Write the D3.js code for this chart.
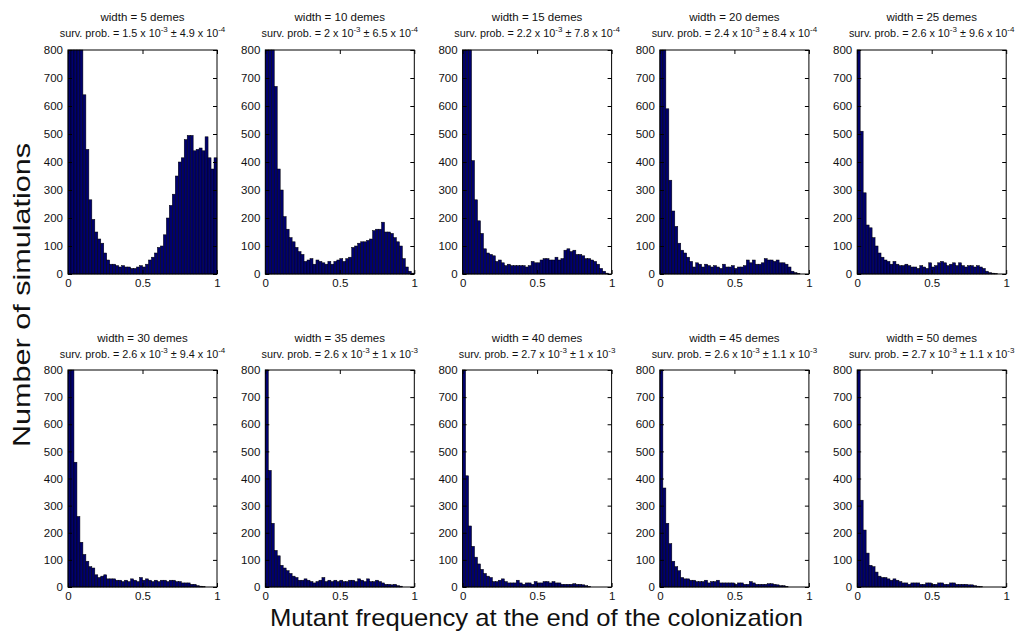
<!DOCTYPE html>
<html>
<head>
<meta charset="utf-8">
<script src="https://cdn.jsdelivr.net/npm/d3@7"></script>
<style>
  html, body { margin: 0; padding: 0; background: #fff; }
  svg { display: block; font-family: "Liberation Sans", Arial, sans-serif; }
</style>
</head>
<body>
<script>
// ---------- DATA ----------
const widths = [5, 10, 15, 20, 25, 30, 35, 40, 45, 50];
const survMean = ["1.5", "2", "2.2", "2.4", "2.6", "2.6", "2.6", "2.7", "2.6", "2.7"];
const survMeanExp = ["-3", "-3", "-3", "-3", "-3", "-3", "-3", "-3", "-3", "-3"];
const survErr = ["4.9", "6.5", "7.8", "8.4", "9.6", "9.4", "1", "1", "1.1", "1.1"];
const survErrExp = ["-4", "-4", "-4", "-4", "-4", "-4", "-3", "-3", "-3", "-3"];

const yTicks = [0, 100, 200, 300, 400, 500, 600, 700, 800];
const xTicks = [0, 0.5, 1];
const xTickLabels = ["0", "0.5", "1"];

// counts per 0.02-wide bin (50 bins on [0,1]); values above 800 are clipped by the axis
const countsW5 = [3000, 1500, 1100, 950, 850, 640, 445, 265, 195, 150,
  125, 110, 75, 50, 35, 35, 30, 25, 30, 25,
  25, 20, 20, 25, 30, 25, 35, 50, 60, 75,
  95, 100, 140, 200, 245, 285, 350, 400, 415, 480,
  495, 495, 440, 445, 450, 440, 490, 415, 375, 415];
const countsW10 = [3500, 1500, 900, 670, 375, 300, 205, 160, 130, 115,
  95, 80, 70, 45, 50, 55, 35, 50, 45, 40,
  35, 45, 35, 45, 50, 55, 45, 55, 60, 95,
  100, 110, 115, 115, 120, 125, 155, 160, 160, 185,
  150, 150, 145, 130, 115, 100, 55, 25, 10, 3];
const countsW15 = [4000, 1600, 900, 405, 265, 190, 145, 90, 75, 70,
  65, 45, 50, 40, 30, 35, 30, 30, 30, 30,
  30, 25, 30, 45, 40, 40, 50, 55, 55, 50,
  50, 60, 50, 55, 85, 90, 80, 85, 70, 70,
  65, 55, 55, 50, 45, 35, 20, 10, 3, 0];
const countsW20 = [4500, 1500, 590, 335, 225, 170, 110, 85, 75, 60,
  45, 25, 40, 35, 25, 35, 30, 25, 30, 25,
  20, 35, 25, 25, 30, 20, 25, 25, 30, 50,
  40, 50, 35, 35, 40, 55, 50, 50, 45, 50,
  40, 40, 35, 25, 10, 5, 2, 0, 0, 0];
const countsW25 = [5500, 510, 290, 175, 165, 130, 100, 75, 60, 50,
  45, 35, 45, 35, 30, 30, 35, 30, 25, 25,
  20, 30, 25, 20, 40, 25, 30, 40, 45, 40,
  30, 35, 40, 30, 40, 30, 25, 30, 30, 25,
  30, 25, 20, 10, 5, 3, 1, 0, 0, 0];
const countsW30 = [5000, 850, 460, 260, 165, 120, 95, 75, 70, 45,
  35, 40, 45, 30, 30, 30, 25, 25, 20, 25,
  20, 30, 25, 20, 35, 25, 30, 25, 20, 25,
  20, 25, 25, 20, 25, 25, 20, 20, 15, 15,
  15, 10, 10, 5, 3, 1, 0, 0, 0, 0];
const countsW35 = [6000, 430, 235, 135, 115, 80, 70, 60, 50, 40,
  35, 25, 25, 30, 25, 20, 15, 20, 25, 35,
  20, 25, 20, 25, 20, 25, 20, 20, 25, 25,
  20, 30, 25, 20, 30, 20, 20, 25, 20, 15,
  10, 10, 8, 10, 5, 3, 0, 0, 0, 0];
const countsW40 = [6000, 410, 225, 150, 110, 85, 65, 50, 40, 35,
  20, 20, 25, 30, 20, 15, 15, 15, 25, 15,
  10, 15, 15, 10, 20, 15, 15, 20, 20, 15,
  20, 15, 15, 10, 10, 10, 10, 12, 10, 10,
  8, 5, 2, 0, 0, 0, 0, 0, 0, 0];
const countsW45 = [6000, 365, 235, 160, 95, 75, 60, 35, 30, 30,
  25, 25, 20, 20, 20, 25, 15, 20, 20, 25,
  15, 15, 15, 15, 15, 10, 15, 15, 10, 10,
  20, 15, 10, 10, 10, 10, 12, 12, 10, 8,
  5, 5, 2, 0, 0, 0, 0, 0, 0, 0];
const countsW50 = [6000, 320, 210, 125, 80, 75, 55, 40, 35, 35,
  30, 25, 30, 25, 20, 15, 15, 10, 15, 15,
  15, 10, 10, 15, 15, 10, 10, 15, 15, 10,
  10, 15, 15, 10, 10, 10, 10, 8, 8, 5,
  3, 1, 0, 0, 0, 0, 0, 0, 0, 0];

const allCounts = [countsW5, countsW10, countsW15, countsW20, countsW25,
  countsW30, countsW35, countsW40, countsW45, countsW50];

// ---------- LAYOUT ----------
const W = 1018, H = 634;
const svg = d3.select("body").append("svg").attr("width", W).attr("height", H);
svg.append("rect").attr("width", W).attr("height", H).attr("fill", "#fff");

const panelW = 149;
const colLeft = c => 68 + c * 197.3;
const rowTop = [50, 370];
const rowH = [224, 217];
const nBins = 50;

allCounts.forEach((counts, i) => {
  const row = i < 5 ? 0 : 1, col = i % 5;
  const left = colLeft(col), top = rowTop[row], h = rowH[row];
  const x = d3.scaleLinear().domain([0, 1]).range([left, left + panelW]);
  const y = d3.scaleLinear().domain([0, 800]).range([top + h, top]).clamp(true);

  const g = svg.append("g");

  const bins = counts.map((c, j) => ({ x0: j / nBins, x1: (j + 1) / nBins, c }));
  g.append("g").selectAll("rect").data(bins.filter(d => d.c > 0)).join("rect")
    .attr("x", d => x(d.x0))
    .attr("width", d => x(d.x1) - x(d.x0))
    .attr("y", d => y(d.c))
    .attr("height", d => y(0) - y(d.c))
    .attr("fill", "#00006e")
    .attr("stroke", "#000")
    .attr("stroke-width", 0.5);

  // axes (ticks inward like MATLAB)
  const ax = (gen, tr) => {
    const a = g.append("g").attr("transform", tr).call(gen);
    a.select(".domain").remove();
    a.selectAll("line").attr("stroke", "#000");
    a.selectAll("text").attr("fill", "#111").style("font-size", "11.5px")
      .style("font-family", "'Liberation Sans', Arial, sans-serif");
    return a;
  };
  ax(d3.axisLeft(y).tickValues(yTicks).tickFormat(d3.format("d")).tickSizeInner(-4).tickSizeOuter(0).tickPadding(5),
    `translate(${left},0)`);
  ax(d3.axisRight(y).tickValues(yTicks).tickFormat("").tickSizeInner(-4).tickSizeOuter(0),
    `translate(${left + panelW},0)`);
  ax(d3.axisBottom(x).tickValues(xTicks).tickFormat((d, k) => xTickLabels[k]).tickSizeInner(-4).tickSizeOuter(0).tickPadding(5),
    `translate(0,${top + h})`);
  ax(d3.axisTop(x).tickValues(xTicks).tickFormat("").tickSizeInner(-4).tickSizeOuter(0),
    `translate(0,${top})`);

  g.append("rect").attr("x", left).attr("y", top).attr("width", panelW).attr("height", h)
    .attr("fill", "none").attr("stroke", "#000").attr("stroke-width", 1);

  // titles
  const cx = left + panelW / 2;
  const t1y = row === 0 ? 21 : 342;
  const t2y = row === 0 ? 37 : 358;
  g.append("text").attr("x", cx).attr("y", t1y).attr("text-anchor", "middle")
    .style("font-size", "11.5px").attr("fill", "#111")
    .text(`width = ${widths[i]} demes`);
  const t2 = g.append("text").attr("x", cx).attr("y", t2y).attr("text-anchor", "middle")
    .style("font-size", "10.8px").attr("fill", "#111");
  t2.append("tspan").text(`surv. prob. = ${survMean[i]} x 10`);
  t2.append("tspan").attr("dy", -5).style("font-size", "8px").text(survMeanExp[i]);
  t2.append("tspan").attr("dy", 5).text(` \u00b1 ${survErr[i]} x 10`);
  t2.append("tspan").attr("dy", -5).style("font-size", "8px").text(survErrExp[i]);
});

// axis labels
svg.append("text").attr("transform", "translate(30,295) rotate(-90)")
  .attr("text-anchor", "middle").style("font-size", "24px").attr("fill", "#111")
  .attr("textLength", 304).attr("lengthAdjust", "spacingAndGlyphs")
  .text("Number of simulations");
svg.append("text").attr("x", 536.5).attr("y", 626)
  .attr("text-anchor", "middle").style("font-size", "24px").attr("fill", "#111")
  .attr("textLength", 533).attr("lengthAdjust", "spacingAndGlyphs")
  .text("Mutant frequency at the end of the colonization");
</script>
</body>
</html>
